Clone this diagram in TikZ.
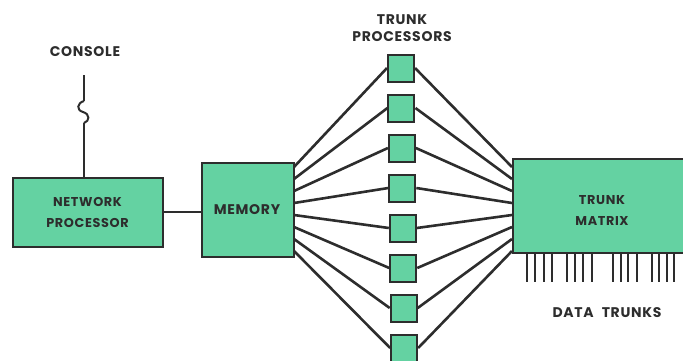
\documentclass[tikz,border=0pt]{standalone}
\usepackage{fontspec}
\setmainfont{Poppins}[LetterSpace=5]
\definecolor{boxgreen}{RGB}{100,210,162}
\definecolor{ink}{RGB}{45,45,45}
\begin{document}
\begin{tikzpicture}[x=1pt,y=-1pt,
  blk/.style={draw=ink,line width=2pt,fill=boxgreen,inner sep=0pt},
  tp/.style={blk,minimum width=26pt,minimum height=27pt},
  lbl/.style={font=\bfseries\fontsize{14}{21}\selectfont,text=ink,align=center,inner sep=0pt},
  lbls/.style={lbl,font=\bfseries\fontsize{12.8}{21}\selectfont},
  wire/.style={draw=ink,line width=2.6pt},
  thinwire/.style={draw=ink,line width=2pt},
  trunkline/.style={draw=ink,line width=2pt}]
\useasboundingbox (0,0) rectangle (683,360);
% blocks
\node[blk,minimum width=150pt,minimum height=69pt] (np) at (87.5,212) {};
\node[lbls] (nptxt) at (87.5,212) {NETWORK\\PROCESSOR};
\node[blk,minimum width=92pt,minimum height=94pt] (mem) at (248,210) {};
\node[lbl] (memtxt) at (247,210) {MEMORY};
\node[blk,minimum width=180pt,minimum height=94pt,anchor=west] (tm) at (512,206) {};
\node[lbls] (tmtxt) at (602,211) {TRUNK\\MATRIX};
% labels
\node[lbl] (console) at (85,52) {CONSOLE};
\node[lbl,font=\bfseries\fontsize{14}{17}\selectfont] (tplbl) at (402,28) {TRUNK\\PROCESSORS};
\node[lbl] (dtlbl) at (607,313) {DATA\hspace{8pt}TRUNKS};
% console link with break
\coordinate (c1) at (84,75);
\coordinate (c2) at (84,101);
\coordinate (c3) at (84,123);
\coordinate (c4) at (84,178);
\draw[thinwire] (c1) -- (c2);
\draw[thinwire] (c2) .. controls (77,103) and (76,110) .. (83,112)
      .. controls (90,114) and (90,121) .. (c3);
\draw[thinwire] (c3) -- (c4);
% network processor to memory
\draw[thinwire] (np.east) -- (mem.west|-np.east);
% trunk processors and fan lines
\foreach \i in {0,...,7}{
  \pgfmathsetmacro{\yy}{68+40*\i}
  \pgfmathsetmacro{\xx}{401+0.45*\i}
  \pgfmathsetmacro{\ey}{167+12*\i}
  \coordinate (m\i) at (294,\ey);
  \coordinate (t\i) at (512,\ey);
  \node[tp] (p\i) at (\xx,\yy) {};
  \draw[wire] (m\i) -- (p\i.west);
  \draw[wire] (p\i.east) -- (t\i);
  \node[tp] at (p\i) {};
}
% data trunks
\foreach \x in {527,535,544,552, 567,575,583,592, 613,621,628,637, 652,659,667,674}{
  \coordinate (dt\x) at (\x,282);
  \coordinate (du\x) at (\x,253);
  \draw[trunkline] (du\x) -- (dt\x);
}
\end{tikzpicture}
\end{document}
